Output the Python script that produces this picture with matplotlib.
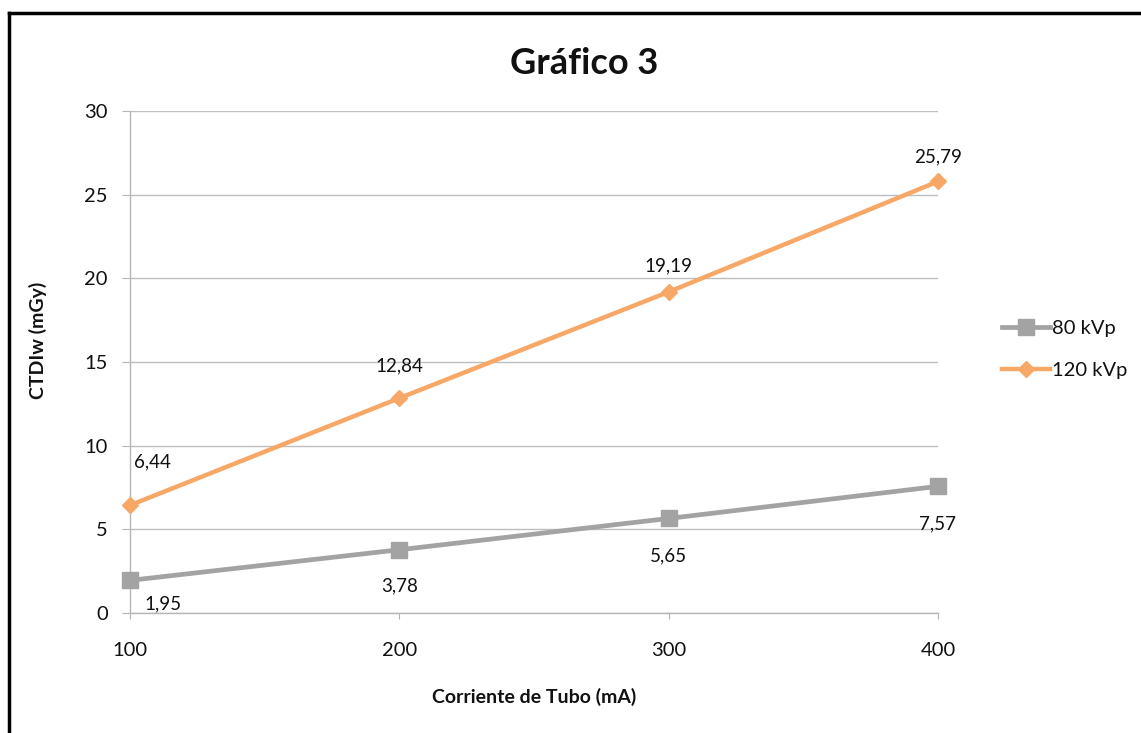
import matplotlib
matplotlib.use("Agg")
import matplotlib.pyplot as plt
from matplotlib.lines import Line2D

plt.rcParams['font.family'] = ['Lato', 'DejaVu Sans']

corriente = [100, 200, 300, 400]
kvp80 = [1.95, 3.78, 5.65, 7.57]
kvp120 = [6.44, 12.84, 19.19, 25.79]
y_ticks = [0, 5, 10, 15, 20, 25, 30]

GRAY = '#a3a3a3'
ORANGE = '#f7a766'

fig = plt.figure(figsize=(11.41, 7.33), dpi=100)
ax = fig.add_axes([130 / 1141, 1 - 613 / 733, (938 - 130) / 1141, (613 - 111) / 733])

ax.plot(corriente, kvp80, color=GRAY, lw=3.4, marker='s', ms=11,
        mfc=GRAY, mec=GRAY, label='80 kVp', zorder=3, clip_on=False)
ax.plot(corriente, kvp120, color=ORANGE, lw=3.2, marker='D', ms=8.5,
        mfc=ORANGE, mec=ORANGE, label='120 kVp', zorder=3, clip_on=False)

def fmt(v):
    return f"{v:.2f}".replace('.', ',')

# label offsets in points (dx, dy)
off120 = [(16, 31), (0, 23), (0, 19), (0, 18)]
off80 = [(24, -17), (0, -26), (0, -27), (0, -27)]
for x, v, (dx, dy) in zip(corriente, kvp120, off120):
    ax.annotate(fmt(v), (x, v), xytext=(dx, dy), textcoords='offset points',
                ha='center', va='center', fontsize=13.5, color='#111111')
for x, v, (dx, dy) in zip(corriente, kvp80, off80):
    ax.annotate(fmt(v), (x, v), xytext=(dx, dy), textcoords='offset points',
                ha='center', va='center', fontsize=13.5, color='#111111')

ax.set_xlim(100, 400)
ax.set_ylim(0, 30)
ax.set_xticks(corriente)
ax.set_xticklabels([str(c) for c in corriente])
ax.set_yticks(y_ticks)
ax.set_yticklabels([str(t) for t in y_ticks])
ax.grid(axis='y', color='#bdbdbd', lw=1)
ax.set_axisbelow(True)
for s in ['top', 'right']:
    ax.spines[s].set_visible(False)
for s in ['left', 'bottom']:
    ax.spines[s].set_color('#b5b5b5')
    ax.spines[s].set_linewidth(1)
ax.tick_params(axis='y', length=6, color='#b5b5b5', labelsize=14.5, pad=10, labelcolor='#111111')
ax.tick_params(axis='x', length=4, color='#b5b5b5', labelsize=14.5, pad=17, labelcolor='#111111')

fig.text(584 / 1141, 1 - 63 / 733, 'Gráfico 3', ha='center', va='center',
         fontsize=26, fontweight='bold', color='#111111')
fig.text(534 / 1141, 1 - 697 / 733, 'Corriente de Tubo (mA)', ha='center', va='center',
         fontsize=14, fontweight='bold', color='#111111')
fig.text(38 / 1141, 1 - 340 / 733, 'CTDIw (mGy)', ha='center', va='center',
         rotation=90, fontsize=14, fontweight='bold', color='#111111')

leg = fig.legend(handles=[
    Line2D([], [], color=GRAY, lw=3.4, marker='s', ms=11, mfc=GRAY, mec=GRAY),
    Line2D([], [], color=ORANGE, lw=3.2, marker='D', ms=8.5, mfc=ORANGE, mec=ORANGE)],
    labels=['80 kVp', '120 kVp'], loc='upper left',
    bbox_to_anchor=(992 / 1141, 1 - 310 / 733), frameon=False, fontsize=14.5,
    handlelength=2.4, handletextpad=0.1, labelspacing=1.25, borderpad=0)
for t in leg.get_texts():
    t.set_color('#111111')

# outer frame
fig.add_artist(Line2D([9 / 1141, 1.0], [1 - 13 / 733, 1 - 13 / 733],
                      color='black', lw=2.5, transform=fig.transFigure))
fig.add_artist(Line2D([9 / 1141, 9 / 1141], [0.0, 1 - 13 / 733],
                      color='black', lw=2.5, transform=fig.transFigure))

fig.savefig('out.png', dpi=100, facecolor='white')
